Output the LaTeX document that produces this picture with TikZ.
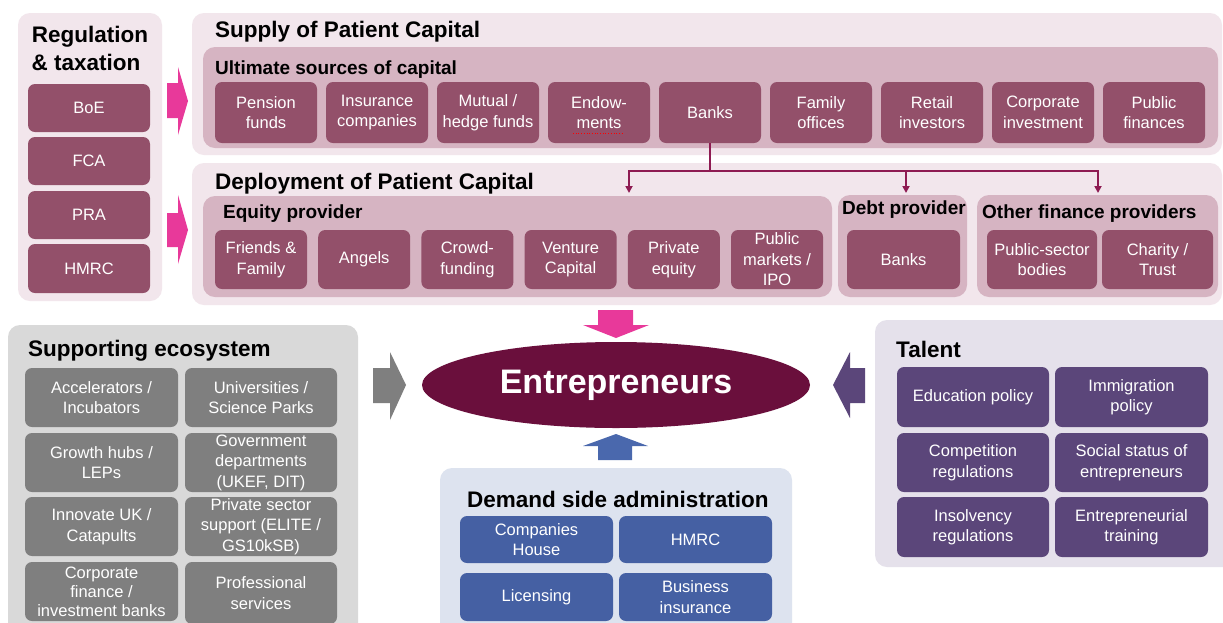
\documentclass[tikz,border=0pt]{standalone}
\usepackage{fontspec}
\setmainfont{Liberation Sans}
\usetikzlibrary{shapes.geometric,arrows.meta,decorations.pathmorphing}
\definecolor{pinkouter}{HTML}{F2E6EC}
\definecolor{pinkinner}{HTML}{D6B4C2}
\definecolor{maroonbox}{HTML}{93506A}
\definecolor{pinkarrow}{HTML}{E8399A}
\definecolor{connred}{HTML}{8E1B52}
\definecolor{ellipsecol}{HTML}{6A0F3C}
\definecolor{grayouter}{HTML}{D9D9D9}
\definecolor{graybox}{HTML}{7F7F7F}
\definecolor{blueouter}{HTML}{DDE3EF}
\definecolor{bluebox}{HTML}{4560A3}
\definecolor{bluearrow}{HTML}{4A68AD}
\definecolor{lavouter}{HTML}{E5E1EB}
\definecolor{purplebox}{HTML}{5B467A}
\newcommand\boxfont{\fontsize{16.5}{20.5}\selectfont}
\newcommand\tightfont{\fontsize{16.5}{19}\selectfont}
\newcommand\bigtitle{\bfseries\fontsize{22.5}{27}\selectfont}
\newcommand\subtitle{\bfseries\fontsize{19}{23}\selectfont}
\newcommand\abox[7]{%
  \pgfmathsetmacro\cxx{(#3+#5)/2}\pgfmathsetmacro\cyy{(#4+#6)/2}%
  \pgfmathsetmacro\ww{#5-#3}\pgfmathsetmacro\hh{#6-#4}%
  \node[#2, minimum width=\ww pt, minimum height=\hh pt] (#1) at (\cxx,\cyy) {#7};}
\tikzset{
  rbx/.style={rounded corners=7pt, inner sep=0pt, outer sep=0pt, align=center, text=white, font=\boxfont},
  mbx/.style={rbx, fill=maroonbox},
  gbx/.style={rbx, fill=graybox},
  bbx/.style={rbx, fill=bluebox},
  pbx/.style={rbx, fill=purplebox},
  container/.style={rounded corners=12pt, inner sep=0pt, outer sep=0pt},
  ttl/.style={anchor=base west, inner sep=0pt, font=\bigtitle},
  sttl/.style={anchor=base west, inner sep=0pt, font=\subtitle},
  conn/.style={draw=connred, line width=1.8pt},
  connarrow/.style={conn, -{Triangle[length=7pt,width=7pt]}},
}
\begin{document}
\begin{tikzpicture}[x=1pt,y=-1pt]
\clip (0,0) rectangle (1223,622);
\fill[white] (0,0) rectangle (1223,622);

% ---------- Regulation & taxation ----------
\abox{regc}{container, fill=pinkouter}{18}{13}{162}{301}{}
\node[anchor=base, inner sep=0pt, font=\bigtitle] (regt1) at (90,42) {Regulation};
\node[anchor=base, inner sep=0pt, font=\bigtitle] (regt2) at (86,70) {\& taxation};
\abox{boe}{mbx}{28}{84}{150}{132}{BoE}
\abox{fca}{mbx}{28}{137}{150}{185}{FCA}
\abox{pra}{mbx}{28}{191}{150}{239}{PRA}
\abox{hmrcr}{mbx}{28}{244}{150}{293}{HMRC}

% pink right arrows
\fill[pinkarrow] (167,83) -- (178,83) -- (178,67) -- (188,101) -- (178,135) -- (178,118) -- (167,118) -- cycle;
\fill[pinkarrow] (167,213) -- (178,213) -- (178,195) -- (188,230) -- (178,264) -- (178,247) -- (167,247) -- cycle;

% ---------- Supply ----------
\abox{supc}{container, fill=pinkouter}{192}{13}{1222}{155}{}
\node[ttl] (supt) at (215,37) {Supply of Patient Capital};
\abox{ultc}{container, fill=pinkinner}{203}{47}{1218}{148}{}
\node[sttl] (ultt) at (215,74) {Ultimate sources of capital};
\foreach \i/\nm/\txt in {0/s0/{Pension\\funds},1/s1/{Insurance\\companies},2/s2/{Mutual /\\hedge funds},3/s3/{Endow-\\ments},4/s4/{Banks},5/s5/{Family\\offices},6/s6/{Retail\\investors},7/s7/{Corporate\\investment},8/s8/{Public\\finances}}{%
  \pgfmathsetmacro\xa{215+111*\i}\pgfmathsetmacro\xb{\xa+102}%
  \abox{\nm}{mbx}{\xa}{82}{\xb}{143}{\txt}
}
\draw[red, line width=0.7pt, dotted] (573,133) -- (623,133);

% ---------- Deployment ----------
\abox{depc}{container, fill=pinkouter}{192}{163}{1222}{305}{}
\node[ttl] (dept) at (215,189) {Deployment of Patient Capital};
\abox{eqc}{container, fill=pinkinner}{203}{196}{832}{297}{}
\node[sttl] (eqt) at (223,218) {Equity provider};
\foreach \i/\nm/\txt in {0/e0/{Friends \&\\Family},1/e1/{Angels},2/e2/{Crowd-\\funding},3/e3/{Venture\\Capital},4/e4/{Private\\equity},5/e5/{Public\\markets /\\IPO}}{%
  \pgfmathsetmacro\xa{215+103.2*\i}\pgfmathsetmacro\xb{\xa+92}%
  \abox{\nm}{mbx}{\xa}{230}{\xb}{289}{\txt}
}
\abox{debtc}{container, fill=pinkinner}{838}{195}{967}{297}{}
\node[sttl] (debtt) at (842,214) {Debt provider};
\abox{dbanks}{mbx}{847}{230}{960}{289}{Banks}
\abox{othc}{container, fill=pinkinner}{977}{195}{1218}{297}{}
\node[sttl] (otht) at (982,218) {Other finance providers};
\abox{o0}{mbx}{987}{230}{1097}{289}{Public-sector\\bodies}
\abox{o1}{mbx}{1102}{230}{1213}{289}{Charity /\\Trust}

% connectors from Banks
\coordinate (split) at (710,171);
\coordinate (tEq) at (629,193);
\coordinate (tDebt) at (906,193);
\coordinate (tOth) at (1098,193);
\draw[conn] (s4.south) -- (split);
\draw[connarrow] (split) -| (tEq);
\draw[connarrow] (split) -| (tDebt);
\draw[connarrow] (split) -| (tOth);

% ---------- Entrepreneurs ----------
\node[ellipse, fill=ellipsecol, minimum width=388pt, minimum height=86pt, inner sep=0pt, text=white, font=\bfseries\fontsize{34}{40}\selectfont] (ent) at (616,385) {Entrepreneurs};
\fill[pinkarrow] (598,310) -- (633,310) -- (633,325) -- (649,325) -- (616,338) -- (583,325) -- (598,325) -- cycle;
\fill[bluearrow] (598,460) -- (632,460) -- (632,446) -- (648,446) -- (616,434) -- (583,446) -- (598,446) -- cycle;
\fill[graybox] (373,368) -- (390,368) -- (390,352) -- (406,385) -- (390,420) -- (390,403) -- (373,403) -- cycle;
\fill[purplebox] (865,368) -- (850,368) -- (850,352) -- (833,385) -- (850,418) -- (850,403) -- (865,403) -- cycle;

% ---------- Supporting ecosystem ----------
\abox{supeco}{container, fill=grayouter}{8}{325}{358}{660}{}
\node[ttl] (ecot) at (28,356) {Supporting ecosystem};
\abox{g1}{gbx}{25}{368}{178}{427}{Accelerators /\\Incubators}
\abox{g2}{gbx}{185}{368}{337}{427}{Universities /\\Science Parks}
\abox{g3}{gbx}{25}{433}{178}{492}{Growth hubs /\\LEPs}
\abox{g4}{gbx}{185}{433}{337}{492}{Government\\departments\\(UKEF, DIT)}
\abox{g5}{gbx}{25}{497}{178}{556}{Innovate UK /\\Catapults}
\abox{g6}{gbx}{185}{497}{337}{556}{Private sector\\support (ELITE /\\GS10kSB)}
\abox{g7}{gbx, font=\tightfont}{25}{562}{178}{621}{Corporate\\finance /\\investment banks}
\abox{g8}{gbx}{185}{562}{337}{624}{Professional\\services}

% ---------- Demand side ----------
\abox{demc}{container, fill=blueouter}{440}{468}{792}{660}{}
\node[ttl] (demt) at (467,507) {Demand side administration};
\abox{d1}{bbx}{460}{516}{613}{563}{Companies\\House}
\abox{d2}{bbx}{619}{516}{772}{563}{HMRC}
\abox{d3}{bbx}{460}{573}{613}{621}{Licensing}
\abox{d4}{bbx}{619}{573}{772}{621}{Business\\insurance}

% ---------- Talent ----------
\abox{talc}{container, fill=lavouter}{875}{320}{1240}{567}{}
\node[ttl] (talt) at (896,357) {Talent};
\abox{p1}{pbx}{897}{367}{1049}{427}{Education policy}
\abox{p2}{pbx}{1055}{367}{1208}{427}{Immigration\\policy}
\abox{p3}{pbx}{897}{433}{1049}{492}{Competition\\regulations}
\abox{p4}{pbx}{1055}{433}{1208}{492}{Social status of\\entrepreneurs}
\abox{p5}{pbx}{897}{497}{1049}{557}{Insolvency\\regulations}
\abox{p6}{pbx}{1055}{497}{1208}{557}{Entrepreneurial\\training}
\end{tikzpicture}
\end{document}
